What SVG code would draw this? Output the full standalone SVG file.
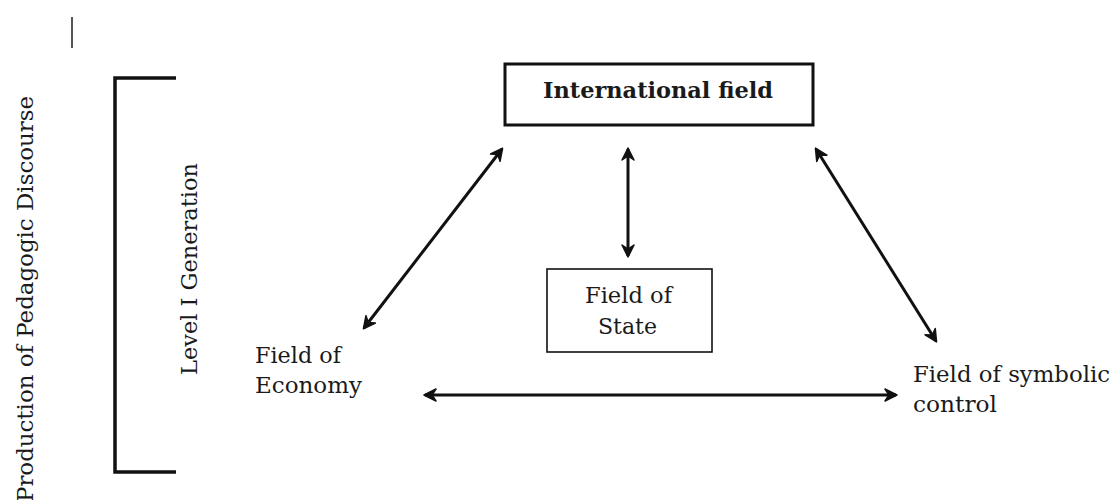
<svg xmlns="http://www.w3.org/2000/svg" width="1114" height="500" viewBox="0 0 1114 500">
  <style>
    .lbl { font-family: "DejaVu Serif", "Liberation Serif", serif; font-size: 23px; fill: #1a1a1a; }
    .side { font-size: 22px; }
    .bold { font-weight: bold; font-size: 22px; }
    .conn { stroke: #111; stroke-width: 3; fill: none; marker-start: url(#head); marker-end: url(#head); }
    .box { fill: #fff; stroke: #111; }
  </style>
  <defs>
    <marker id="head" viewBox="-12 -7 14 14" refX="0" refY="0" markerWidth="14" markerHeight="14" markerUnits="userSpaceOnUse" orient="auto-start-reverse">
      <path d="M1,0 L-11,-6 L-7,0 L-11,6 Z" fill="#111" stroke="#111" stroke-width="1.5" stroke-linejoin="round"/>
    </marker>
  </defs>

  <rect width="1114" height="500" fill="#fff"/>

  <!-- stray cursor mark -->
  <line x1="72" y1="17" x2="72" y2="48" stroke="#555" stroke-width="2"/>

  <!-- side labels and bracket -->
  <g id="production-label">
    <text class="lbl side" transform="translate(33,502) rotate(-90)" textLength="406" lengthAdjust="spacingAndGlyphs">Production of Pedagogic Discourse</text>
  </g>
  <g id="level-bracket">
    <path d="M176,78 H115 V472 H176" fill="none" stroke="#111" stroke-width="3.5"/>
  </g>
  <g id="level-label">
    <text class="lbl side" transform="translate(197,375) rotate(-90)" textLength="212" lengthAdjust="spacingAndGlyphs">Level I Generation</text>
  </g>

  <!-- nodes -->
  <g id="international-field">
    <rect class="box" x="505" y="64" width="308" height="61" stroke-width="3"/>
    <text class="lbl bold" x="543" y="98" textLength="230" lengthAdjust="spacingAndGlyphs">International field</text>
  </g>
  <g id="field-of-state">
    <rect class="box" x="547" y="269" width="165" height="83" stroke-width="1.6"/>
    <text class="lbl" x="585" y="303" textLength="87" lengthAdjust="spacingAndGlyphs">Field of</text>
    <text class="lbl" x="598" y="334" textLength="59" lengthAdjust="spacingAndGlyphs">State</text>
  </g>
  <g id="field-of-economy">
    <text class="lbl" x="255" y="363" textLength="86" lengthAdjust="spacingAndGlyphs">Field of</text>
    <text class="lbl" x="255" y="393" textLength="107" lengthAdjust="spacingAndGlyphs">Economy</text>
  </g>
  <g id="field-of-symbolic-control">
    <text class="lbl" x="913" y="382" textLength="197" lengthAdjust="spacingAndGlyphs">Field of symbolic</text>
    <text class="lbl" x="913" y="412" textLength="84" lengthAdjust="spacingAndGlyphs">control</text>
  </g>

  <!-- connectors -->
  <g id="connectors">
    <line class="conn" x1="628" y1="149" x2="628" y2="256"/>
    <line class="conn" x1="502" y1="149" x2="364" y2="328"/>
    <line class="conn" x1="816" y1="149" x2="936" y2="341"/>
    <line class="conn" x1="425" y1="395" x2="896" y2="395"/>
  </g>
</svg>
